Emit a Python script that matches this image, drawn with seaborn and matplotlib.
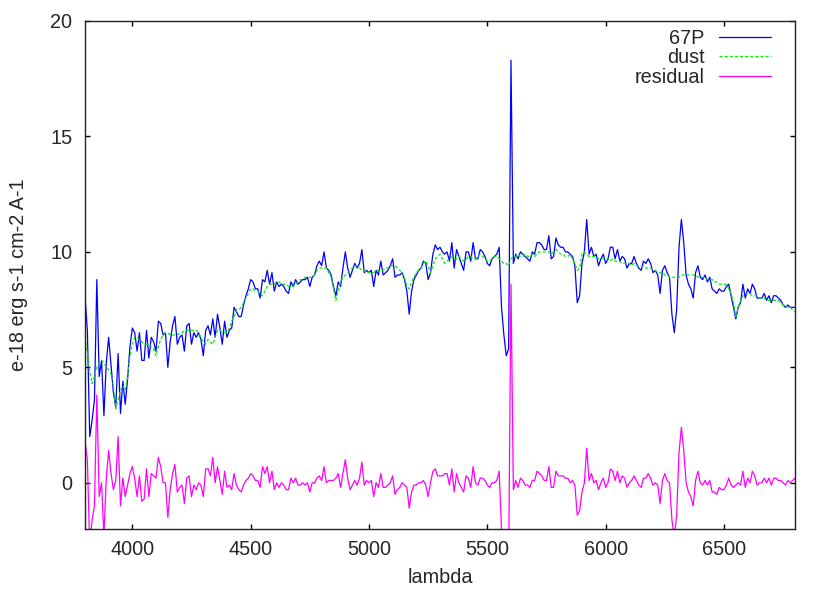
import numpy as np
import pandas as pd
import matplotlib
matplotlib.use("Agg")
import matplotlib.pyplot as plt
import seaborn as sns

# wavelength grid (Angstrom), 10 A steps
wavelength = np.arange(3800, 6801, 10)

# 67P spectrum (e-18 erg s-1 cm-2 A-1)
flux_67p = [
    8.1, 6.6, 2.0, 2.7, 3.6, 8.8, 4.6, 5.3, 2.9, 5.2,        # 3800
    6.3, 5.1, 3.9, 3.3, 5.6, 3.0, 4.4, 3.4, 4.5, 5.9,        # 3900
    6.7, 6.5, 5.7, 6.5, 5.3, 5.3, 6.6, 5.4, 6.3, 6.1,        # 4000
    5.7, 7.0, 6.9, 6.4, 6.5, 5.0, 6.1, 6.8, 7.2, 6.0,        # 4100
    6.3, 6.4, 5.7, 6.8, 6.9, 6.0, 6.5, 6.3, 6.5, 6.2,        # 4200
    5.5, 6.6, 6.8, 6.4, 7.1, 6.3, 7.3, 6.7, 6.0, 7.0,        # 4300
    6.3, 6.6, 6.7, 7.6, 7.4, 7.2, 7.2, 7.7, 8.1, 8.4,        # 4400
    8.8, 8.7, 8.4, 8.4, 8.0, 8.8, 8.7, 9.2, 8.6, 9.1,        # 4500
    8.3, 8.7, 8.5, 8.6, 8.5, 8.3, 8.2, 8.7, 8.5, 8.8,        # 4600
    8.6, 8.7, 8.8, 8.8, 8.9, 8.5, 8.9, 9.0, 9.4, 9.6,        # 4700
    9.4, 10.0, 9.3, 9.2, 9.0, 8.5, 8.1, 8.7, 8.5, 9.3,       # 4800
    10.0, 9.3, 8.9, 9.2, 9.5, 9.3, 9.5, 10.1, 9.1, 9.2,      # 4900
    9.1, 9.2, 8.5, 9.2, 9.0, 9.6, 9.0, 9.1, 9.2, 9.4,        # 5000
    9.7, 8.9, 9.0, 9.0, 9.1, 8.8, 8.3, 7.3, 8.3, 8.8,        # 5100
    9.0, 9.2, 9.3, 9.6, 9.5, 8.8, 9.1, 9.9, 10.3, 10.1,      # 5200
    10.2, 10.0, 9.9, 10.0, 9.6, 10.4, 9.3, 10.1, 9.8, 9.5,   # 5300
    9.2, 10.0, 10.0, 9.6, 10.4, 9.7, 9.7, 10.1, 10.0, 9.8,   # 5400
    9.5, 9.4, 9.7, 9.8, 9.9, 10.2, 7.6, 6.4, 5.5, 5.8,       # 5500
    18.3, 9.5, 9.9, 9.7, 10.0, 9.9, 9.8, 9.7, 9.6, 10.0,     # 5600
    9.9, 10.4, 10.4, 10.3, 10.1, 10.1, 10.7, 9.7, 9.8, 10.6, # 5700
    10.3, 10.2, 10.2, 10.0, 10.0, 9.9, 9.8, 9.4, 7.8, 8.1,   # 5800
    9.5, 10.0, 11.4, 9.9, 10.2, 9.8, 9.9, 9.4, 9.7, 9.9,     # 5900
    9.5, 9.7, 10.2, 10.2, 9.7, 10.1, 9.6, 9.8, 9.7, 9.3,     # 6000
    9.5, 9.5, 9.8, 9.5, 9.3, 9.2, 9.6, 9.5, 9.7, 9.5,        # 6100
    9.1, 9.2, 9.0, 8.2, 9.2, 9.4, 9.1, 8.9, 7.3, 6.5,        # 6200
    7.5, 10.2, 11.4, 10.4, 9.0, 8.6, 8.4, 8.0, 9.1, 9.4,     # 6300
    8.9, 8.8, 9.0, 8.7, 8.9, 8.4, 8.3, 8.2, 8.4, 8.3,        # 6400
    8.3, 8.5, 8.6, 8.1, 7.6, 7.1, 7.6, 7.8, 8.6, 8.0,        # 6500
    8.4, 8.2, 8.6, 8.4, 8.0, 8.0, 8.0, 8.2, 7.9, 8.1,        # 6600
    7.8, 8.1, 8.1, 8.0, 7.9, 7.7, 7.6, 7.7, 7.6, 7.6,        # 6700
    7.6,                                                     # 6800
]

# dust model
dust_model = [
    6.3, 5.6, 4.8, 4.3, 4.6, 5.0, 5.2, 5.3, 5.2, 5.0,        # 3800
    4.9, 4.7, 4.2, 3.2, 3.6, 4.0, 4.2, 4.0, 4.6, 5.5,        # 3900
    6.0, 6.3, 6.3, 6.2, 6.1, 6.0, 6.0, 6.0, 5.9, 5.8,        # 4000
    5.5, 5.9, 6.2, 6.4, 6.5, 6.5, 6.4, 6.4, 6.4, 6.4,        # 4100
    6.5, 6.5, 6.6, 6.6, 6.6, 6.6, 6.6, 6.6, 6.5, 6.3,        # 4200
    6.1, 6.0, 6.2, 6.1, 6.0, 6.3, 6.6, 6.6, 6.5, 6.5,        # 4300
    6.5, 6.7, 7.0, 7.2, 7.5, 7.5, 7.6, 7.8, 8.0, 8.2,        # 4400
    8.4, 8.4, 8.3, 8.3, 8.2, 8.1, 8.3, 8.5, 8.6, 8.6,        # 4500
    8.6, 8.7, 8.7, 8.6, 8.6, 8.6, 8.5, 8.5, 8.5, 8.6,        # 4600
    8.7, 8.8, 8.8, 8.9, 8.9, 8.9, 8.9, 9.0, 9.2, 9.3,        # 4700
    9.3, 9.3, 9.3, 9.1, 8.9, 8.4, 7.9, 8.3, 8.7, 8.9,        # 4800
    9.0, 9.1, 9.2, 9.3, 9.4, 9.4, 9.3, 9.2, 9.2, 9.1,        # 4900
    9.1, 9.1, 9.1, 9.2, 9.2, 9.2, 9.2, 9.3, 9.3, 9.4,        # 5000
    9.4, 9.4, 9.3, 9.2, 9.1, 8.9, 8.5, 8.4, 8.7, 8.9,        # 5100
    9.1, 9.2, 9.3, 9.5, 9.6, 9.4, 9.1, 9.4, 9.7, 9.8,        # 5200
    9.9, 9.7, 9.5, 9.6, 9.7, 9.8, 9.7, 9.7, 9.8, 9.7,        # 5300
    9.6, 9.7, 9.8, 9.8, 9.7, 9.7, 9.8, 9.9, 9.8, 9.7,        # 5400
    9.6, 9.6, 9.7, 9.8, 9.8, 9.7, 9.6, 9.5, 9.5, 9.4,        # 5500
    9.7, 9.8, 9.8, 9.9, 9.8, 9.8, 9.9, 9.8, 9.8, 9.9,        # 5600
    9.8, 9.9, 10.0, 10.0, 10.0, 10.0, 10.0, 9.9, 10.0, 10.1, # 5700
    10.0, 9.9, 9.9, 9.8, 9.8, 9.9, 9.7, 9.5, 9.2, 9.3,       # 5800
    9.9, 10.0, 9.9, 9.8, 9.8, 9.8, 9.8, 9.7, 9.7, 9.7,       # 5900
    9.7, 9.7, 9.6, 9.7, 9.6, 9.6, 9.6, 9.5, 9.5, 9.5,        # 6000
    9.5, 9.4, 9.5, 9.4, 9.4, 9.4, 9.4, 9.3, 9.3, 9.3,        # 6100
    9.2, 9.2, 9.1, 9.1, 9.1, 9.0, 9.0, 8.9, 8.9, 8.9,        # 6200
    8.9, 8.9, 9.0, 9.0, 9.0, 9.0, 9.0, 9.0, 9.0, 8.9,        # 6300
    8.9, 8.9, 8.9, 8.8, 8.8, 8.8, 8.7, 8.7, 8.6, 8.6,        # 6400
    8.6, 8.6, 8.4, 8.2, 7.8, 7.2, 7.6, 7.9, 8.1, 8.2,        # 6500
    8.2, 8.2, 8.1, 8.1, 8.1, 8.0, 8.0, 8.0, 7.9, 7.9,        # 6600
    7.9, 7.9, 7.9, 7.9, 7.8, 7.7, 7.7, 7.6, 7.6, 7.5,        # 6700
    7.4,                                                     # 6800
]

df = pd.DataFrame({"lambda": wavelength, "67P": flux_67p, "dust": dust_model})
df["residual"] = df["67P"] - df["dust"]

sns.set_theme(style="ticks")
plt.rcParams["font.family"] = ["Liberation Sans", "DejaVu Sans"]
plt.rcParams["xtick.direction"] = "in"
plt.rcParams["ytick.direction"] = "in"
plt.rcParams["xtick.top"] = True
plt.rcParams["ytick.right"] = True

fig = plt.figure(figsize=(8.3, 5.93), dpi=100)
ax = fig.add_axes([0.1024, 0.108, 0.8554, 0.8566])

sns.lineplot(data=df, x="lambda", y="67P", color="#0000ff", lw=0.9, label="67P", ax=ax)
sns.lineplot(data=df, x="lambda", y="dust", color="#00ee00", lw=0.9,
             linestyle=(0, (2.4, 1.7)), label="dust", ax=ax)
sns.lineplot(data=df, x="lambda", y="residual", color="#ff00ff", lw=0.9, label="residual", ax=ax)

ax.set_xlim(3800, 6800)
ax.set_ylim(-2, 20)
ax.set_xticks([4000, 4500, 5000, 5500, 6000, 6500])
ax.set_yticks([0, 5, 10, 15, 20])
ax.tick_params(axis="both", labelsize=14.3, length=3.6, width=1, color="black")
ax.tick_params(axis="x", pad=8)
ax.tick_params(axis="y", pad=9)
for s in ax.spines.values():
    s.set_color("#222222")
    s.set_linewidth(1)

ax.set_xlabel("lambda", fontsize=14.3)
ax.set_ylabel("e-18 erg s-1 cm-2 A-1", fontsize=14.3)
ax.xaxis.set_label_coords(0.5, -0.076)
ax.yaxis.set_label_coords(-0.08, 0.5)

ax.legend(loc="upper right", bbox_to_anchor=(0.966, 0.985), frameon=False,
          markerfirst=False, fontsize=14.3, handlelength=2.6, handletextpad=0.75,
          labelspacing=0.03, borderpad=0, borderaxespad=0)

fig.savefig("out.png", dpi=100)
